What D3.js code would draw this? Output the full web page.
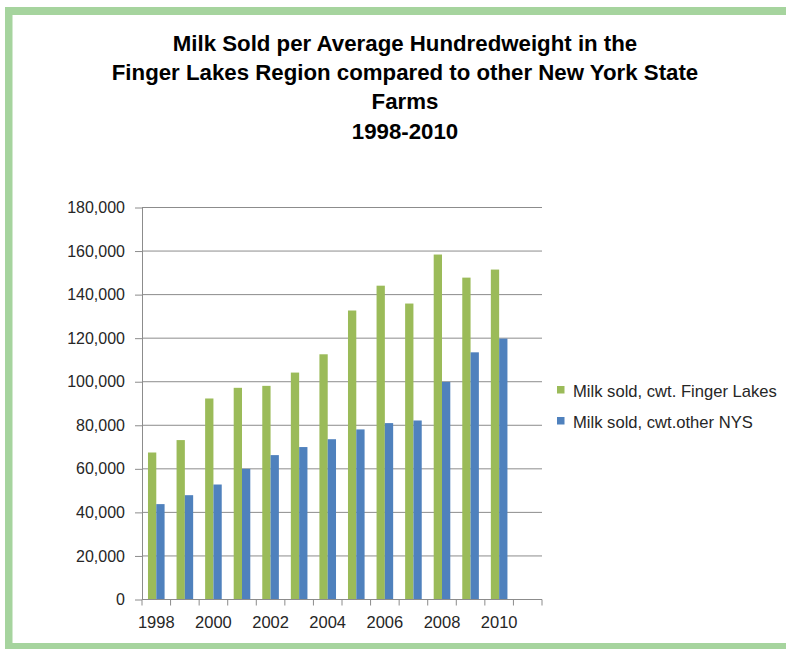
<!DOCTYPE html>
<html>
<head>
<meta charset="utf-8">
<script src="https://cdn.jsdelivr.net/npm/d3@7"></script>
<style>
  html, body { margin: 0; padding: 0; background: #fff; }
  svg text { font-family: "Liberation Sans", Arial, sans-serif; fill: #262626; }
</style>
</head>
<body>
<div id="chart"></div>
<script>
// data
const years = ['1998','1999','2000','2001','2002','2003','2004','2005','2006','2007','2008','2009','2010','2011'];
const fingerLakes = [67500, 73200, 92300, 97200, 98100, 104200, 112600, 132700, 144100, 135900, 158400, 147800, 151500, null];
const otherNYS = [43800, 47900, 52800, 60000, 66300, 70000, 73600, 78100, 81000, 82200, 99900, 113500, 119800, null];
const seriesNames = ['Milk sold, cwt. Finger Lakes', 'Milk sold, cwt.other NYS'];
const seriesColors = ['#9bbb59', '#4f81bd'];
const yTicks = [0, 20000, 40000, 60000, 80000, 100000, 120000, 140000, 160000, 180000];
const titleLines = [
    'Milk Sold per Average Hundredweight in the',
    'Finger Lakes Region compared to other New York State',
    'Farms',
    '1998-2010'
];

const W = 786, H = 649;
const plot = { left: 142, right: 542, top: 207.5, bottom: 599.5 };

const svg = d3.select('#chart').append('svg')
    .attr('width', W).attr('height', H);

// green frame (left, top, bottom)
const frame = '#a6d49e';
svg.append('rect').attr('x', 5).attr('y', 7).attr('width', W - 5).attr('height', 8).attr('fill', frame);
svg.append('rect').attr('x', 5).attr('y', 7).attr('width', 7.5).attr('height', H - 7).attr('fill', frame);
svg.append('rect').attr('x', 5).attr('y', 643).attr('width', W - 5).attr('height', 6).attr('fill', frame);

// title
const title = svg.append('g');
const titleY = [51, 80, 109, 139];
const tl = title.selectAll('text').data(titleLines).join('text')
    .attr('x', 405).attr('y', (d, i) => titleY[i])
    .attr('text-anchor', 'middle')
    .style('font-weight', 'bold')
    .style('font-size', '20px')
    .style('fill', '#000')
    .text(d => d);
// size the title so the long line spans its width in the picture
const w2 = tl.filter((d, i) => i === 1).node().getComputedTextLength();
tl.style('font-size', (20 * 587 / w2) + 'px');

const x = d3.scaleBand().domain(years).range([plot.left, plot.right]).padding(0);
const groupW = 16.6;
const x1 = d3.scaleBand().domain(seriesNames)
    .range([(x.bandwidth() - groupW) / 2, (x.bandwidth() + groupW) / 2]);
const y = d3.scaleLinear().domain([0, 180000]).range([plot.bottom, plot.top]);

// gridlines
svg.append('g').selectAll('line').data(yTicks.slice(1)).join('line')
    .attr('x1', plot.left).attr('x2', plot.right)
    .attr('y1', d => y(d)).attr('y2', d => y(d))
    .attr('stroke', '#8c8c8c').attr('stroke-width', 1);

// bars
const table = years.map((yr, i) => ({ year: yr, vals: [fingerLakes[i], otherNYS[i]] }));
const groups = svg.append('g').selectAll('g').data(table).join('g')
    .attr('transform', d => `translate(${x(d.year)},0)`);
groups.selectAll('rect')
    .data(d => d.vals.map((v, k) => ({ v, k })).filter(e => e.v != null))
    .join('rect')
    .attr('x', e => x1(seriesNames[e.k]))
    .attr('width', x1.bandwidth())
    .attr('y', e => y(e.v))
    .attr('height', e => y(0) - y(e.v))
    .attr('fill', e => seriesColors[e.k]);

// y axis
const yAxis = svg.append('g').attr('transform', `translate(${plot.left},0)`)
    .call(d3.axisLeft(y).tickValues(yTicks).tickFormat(d3.format(',')).tickSize(7).tickSizeOuter(0).tickPadding(10));
yAxis.select('.domain').attr('stroke', '#8c8c8c');
yAxis.selectAll('.tick line').attr('stroke', '#8c8c8c');
yAxis.selectAll('text').style('font-size', '16px').style('font-family', '"Liberation Sans", Arial, sans-serif').attr('fill', '#262626');

// x axis: ticks on category boundaries
const xAxisG = svg.append('g').attr('transform', `translate(0,${plot.bottom})`);
xAxisG.append('line').attr('x1', plot.left).attr('x2', plot.right)
    .attr('stroke', '#8c8c8c');
const bounds = years.map(d => x(d)).concat([plot.right]);
xAxisG.selectAll('.tk').data(bounds).join('line').attr('class', 'tk')
    .attr('x1', d => d).attr('x2', d => d).attr('y1', 0).attr('y2', 6)
    .attr('stroke', '#8c8c8c');
xAxisG.selectAll('.lbl').data(years.filter((d, i) => i % 2 === 0 && i < 13)).join('text')
    .attr('class', 'lbl')
    .attr('x', d => x(d) + x.bandwidth() / 2).attr('y', 28.5)
    .attr('text-anchor', 'middle')
    .style('font-size', '16.5px')
    .text(d => d);

// legend
const legend = svg.append('g').attr('transform', 'translate(557,386)');
const li = legend.selectAll('g').data(seriesNames).join('g')
    .attr('transform', (d, i) => `translate(0,${i * 31})`);
li.append('rect').attr('width', 7.5).attr('height', 7.5).attr('fill', (d, i) => seriesColors[i]);
li.append('text').attr('x', 16).attr('y', 10.5).style('font-size', '16.6px').text(d => d);
</script>
</body>
</html>
